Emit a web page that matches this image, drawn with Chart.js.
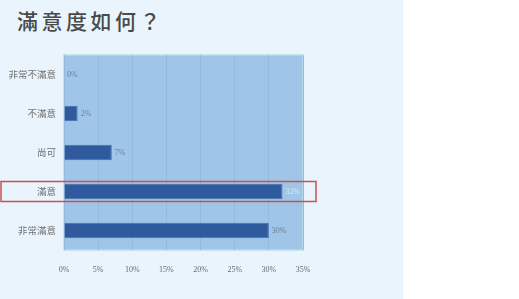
<!DOCTYPE html>
<html>
<head>
<meta charset="utf-8">
<script src="https://cdn.jsdelivr.net/npm/chart.js@4"></script>
<style>
  html, body { margin: 0; padding: 0; background: #fff; }
  #panel { position: absolute; left: 0; top: 0; width: 403px; height: 299px; background: #e9f4fc; }
  #title { position: absolute; left: 17px; top: 5px; font-family: "Noto Sans CJK TC"; font-weight: 500;
           font-size: 21px; letter-spacing: 3.5px; color: #4a4a4a; }
  #wrap { position: absolute; left: 0; top: 0; width: 403px; height: 299px; }
</style>
</head>
<body>
<div id="panel"></div>
<div id="title">滿意度如何？</div>
<div id="wrap"><canvas id="satisfaction_chart" width="403" height="299"></canvas></div>
<script>
const categories = ['非常不滿意', '不滿意', '尚可', '滿意', '非常滿意']
const percents = [0, 2, 7, 32, 30]
const x_ticks = [0, 5, 10, 15, 20, 25, 30, 35]
const highlight_index = 3

const chart_canvas = document.querySelector('#satisfaction_chart')

// plot area fill, value labels and the red box around the highlighted row
const decorations = {
    id: 'decorations',
    beforeDraw(chart) {
        const { ctx, chartArea: a } = chart
        ctx.save()
        ctx.fillStyle = '#9fc5e8'
        ctx.fillRect(a.left, a.top, a.right - a.left, a.bottom - a.top)
        ctx.strokeStyle = '#bcdcea'
        ctx.lineWidth = 1.5
        ctx.strokeRect(a.left, a.top, a.right - a.left, a.bottom - a.top)
        ctx.restore()
    },
    afterDatasetsDraw(chart) {
        const { ctx } = chart
        const meta = chart.getDatasetMeta(0)
        ctx.save()
        ctx.font = '8px "Liberation Serif"'
        ctx.textBaseline = 'middle'
        meta.data.forEach((bar, i) => {
            ctx.fillStyle = i === highlight_index ? '#dce8f4' : '#6f7f8f'
            ctx.fillText(percents[i] + '%', bar.x + 3, bar.y)
        })
        const y = chart.scales.y.getPixelForValue(highlight_index)
        ctx.strokeStyle = '#cf4f4c'
        ctx.lineWidth = 1.5
        ctx.strokeRect(1, y - 10, 315, 20)
        ctx.restore()
    }
}

new Chart(chart_canvas, {
    type: 'bar',
    data: {
        labels: categories,
        datasets: [{
            data: percents,
            backgroundColor: '#2f5a9e',
            borderColor: '#4a72b0',
            borderWidth: 1,
            categoryPercentage: 1,
            barPercentage: 0.4
        }]
    },
    options: {
        indexAxis: 'y',
        responsive: false,
        animation: false,
        layout: { padding: { top: 55, right: 100, bottom: 20, left: 0 } },
        plugins: { legend: { display: false }, tooltip: { enabled: false } },
        scales: {
            x: {
                min: 0,
                max: 35,
                afterBuildTicks(scale) { scale.ticks = x_ticks.map(v => ({ value: v })) },
                grid: { color: '#94badf', drawTicks: false },
                border: { display: false },
                ticks: {
                    padding: 15,
                    color: '#6a6a6a',
                    font: { family: 'Liberation Serif', size: 8 },
                    callback: v => v + '%'
                },
                afterFit(scale) { scale.height = 29 }
            },
            y: {
                grid: { display: false, drawTicks: false },
                border: { display: false },
                ticks: {
                    padding: 8,
                    color: '#707070',
                    font: { family: 'Noto Sans CJK TC', size: 9.5 }
                },
                afterFit(scale) { scale.width = 64 }
            }
        }
    },
    plugins: [decorations]
});
</script>
</body>
</html>
